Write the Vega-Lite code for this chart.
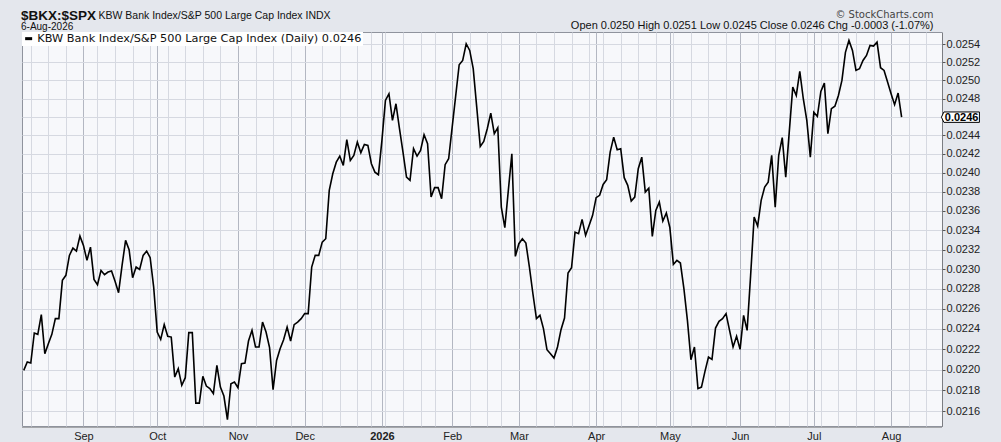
{
  "$schema": "https://vega.github.io/schema/vega-lite/v6.json",
  "width": 920,
  "height": 394,
  "autosize": {"type": "none"},
  "padding": {"left": 22, "top": 32, "right": 59, "bottom": 16},
  "background": "#e4e7ed",
  "config": {
    "view": {"stroke": "#8f939d", "fill": "#f7f8fb"},
    "font": "Liberation Sans"
  },
  "title": {
    "text": "$BKX:$SPX",
    "subtitle": "6-Aug-2026",
    "anchor": "start",
    "frame": "group",
    "font": "Liberation Sans",
    "fontSize": 13.5,
    "fontWeight": "bold",
    "color": "#111111",
    "subtitleFont": "Liberation Sans",
    "subtitleFontSize": 10,
    "subtitleColor": "#111111",
    "subtitlePadding": 0,
    "offset": -23,
    "dx": -1
  },
  "data": {"values": [
    {"date": "2025-08-07", "value": 0.021994},
    {"date": "2025-08-08", "value": 0.022075},
    {"date": "2025-08-11", "value": 0.022065},
    {"date": "2025-08-12", "value": 0.022360},
    {"date": "2025-08-13", "value": 0.022347},
    {"date": "2025-08-14", "value": 0.022542},
    {"date": "2025-08-15", "value": 0.022157},
    {"date": "2025-08-18", "value": 0.022255},
    {"date": "2025-08-19", "value": 0.022347},
    {"date": "2025-08-20", "value": 0.022502},
    {"date": "2025-08-21", "value": 0.022502},
    {"date": "2025-08-22", "value": 0.022886},
    {"date": "2025-08-25", "value": 0.022937},
    {"date": "2025-08-26", "value": 0.023140},
    {"date": "2025-08-27", "value": 0.023215},
    {"date": "2025-08-28", "value": 0.023184},
    {"date": "2025-08-29", "value": 0.023338},
    {"date": "2025-09-02", "value": 0.023242},
    {"date": "2025-09-03", "value": 0.023089},
    {"date": "2025-09-04", "value": 0.023225},
    {"date": "2025-09-05", "value": 0.022896},
    {"date": "2025-09-08", "value": 0.022842},
    {"date": "2025-09-09", "value": 0.022987},
    {"date": "2025-09-10", "value": 0.022944},
    {"date": "2025-09-11", "value": 0.022970},
    {"date": "2025-09-12", "value": 0.022980},
    {"date": "2025-09-15", "value": 0.022876},
    {"date": "2025-09-16", "value": 0.022762},
    {"date": "2025-09-17", "value": 0.023038},
    {"date": "2025-09-18", "value": 0.023294},
    {"date": "2025-09-19", "value": 0.023198},
    {"date": "2025-09-22", "value": 0.022913},
    {"date": "2025-09-23", "value": 0.023021},
    {"date": "2025-09-24", "value": 0.022997},
    {"date": "2025-09-25", "value": 0.023140},
    {"date": "2025-09-26", "value": 0.023184},
    {"date": "2025-09-29", "value": 0.023117},
    {"date": "2025-09-30", "value": 0.022818},
    {"date": "2025-10-01", "value": 0.022370},
    {"date": "2025-10-02", "value": 0.022297},
    {"date": "2025-10-03", "value": 0.022443},
    {"date": "2025-10-06", "value": 0.022327},
    {"date": "2025-10-07", "value": 0.022320},
    {"date": "2025-10-08", "value": 0.021929},
    {"date": "2025-10-09", "value": 0.022011},
    {"date": "2025-10-10", "value": 0.021849},
    {"date": "2025-10-13", "value": 0.021923},
    {"date": "2025-10-14", "value": 0.022364},
    {"date": "2025-10-15", "value": 0.022364},
    {"date": "2025-10-16", "value": 0.021678},
    {"date": "2025-10-17", "value": 0.021678},
    {"date": "2025-10-20", "value": 0.021936},
    {"date": "2025-10-21", "value": 0.021842},
    {"date": "2025-10-22", "value": 0.021817},
    {"date": "2025-10-23", "value": 0.021769},
    {"date": "2025-10-24", "value": 0.022043},
    {"date": "2025-10-27", "value": 0.021832},
    {"date": "2025-10-28", "value": 0.021746},
    {"date": "2025-10-29", "value": 0.021520},
    {"date": "2025-10-30", "value": 0.021865},
    {"date": "2025-10-31", "value": 0.021881},
    {"date": "2025-11-03", "value": 0.021826},
    {"date": "2025-11-04", "value": 0.022059},
    {"date": "2025-11-05", "value": 0.022065},
    {"date": "2025-11-06", "value": 0.022281},
    {"date": "2025-11-07", "value": 0.022386},
    {"date": "2025-11-10", "value": 0.022222},
    {"date": "2025-11-11", "value": 0.022222},
    {"date": "2025-11-12", "value": 0.022468},
    {"date": "2025-11-13", "value": 0.022370},
    {"date": "2025-11-14", "value": 0.022216},
    {"date": "2025-11-17", "value": 0.021807},
    {"date": "2025-11-18", "value": 0.022091},
    {"date": "2025-11-19", "value": 0.022206},
    {"date": "2025-11-20", "value": 0.022294},
    {"date": "2025-11-21", "value": 0.022419},
    {"date": "2025-11-24", "value": 0.022281},
    {"date": "2025-11-25", "value": 0.022443},
    {"date": "2025-11-26", "value": 0.022468},
    {"date": "2025-11-28", "value": 0.022502},
    {"date": "2025-12-01", "value": 0.022552},
    {"date": "2025-12-02", "value": 0.022552},
    {"date": "2025-12-03", "value": 0.023021},
    {"date": "2025-12-04", "value": 0.023140},
    {"date": "2025-12-05", "value": 0.023140},
    {"date": "2025-12-08", "value": 0.023276},
    {"date": "2025-12-09", "value": 0.023311},
    {"date": "2025-12-10", "value": 0.023814},
    {"date": "2025-12-11", "value": 0.023990},
    {"date": "2025-12-12", "value": 0.024113},
    {"date": "2025-12-15", "value": 0.024177},
    {"date": "2025-12-16", "value": 0.024078},
    {"date": "2025-12-17", "value": 0.024353},
    {"date": "2025-12-18", "value": 0.024131},
    {"date": "2025-12-19", "value": 0.024185},
    {"date": "2025-12-22", "value": 0.024327},
    {"date": "2025-12-23", "value": 0.024214},
    {"date": "2025-12-24", "value": 0.024303},
    {"date": "2025-12-26", "value": 0.024292},
    {"date": "2025-12-29", "value": 0.024096},
    {"date": "2025-12-30", "value": 0.024007},
    {"date": "2025-12-31", "value": 0.023980},
    {"date": "2026-01-02", "value": 0.024346},
    {"date": "2026-01-05", "value": 0.024780},
    {"date": "2026-01-06", "value": 0.024853},
    {"date": "2026-01-07", "value": 0.024562},
    {"date": "2026-01-08", "value": 0.024743},
    {"date": "2026-01-09", "value": 0.024472},
    {"date": "2026-01-12", "value": 0.024220},
    {"date": "2026-01-13", "value": 0.023954},
    {"date": "2026-01-14", "value": 0.023919},
    {"date": "2026-01-15", "value": 0.024257},
    {"date": "2026-01-16", "value": 0.024177},
    {"date": "2026-01-20", "value": 0.024238},
    {"date": "2026-01-21", "value": 0.024407},
    {"date": "2026-01-22", "value": 0.024310},
    {"date": "2026-01-23", "value": 0.023744},
    {"date": "2026-01-26", "value": 0.023843},
    {"date": "2026-01-27", "value": 0.023843},
    {"date": "2026-01-28", "value": 0.023727},
    {"date": "2026-01-29", "value": 0.024086},
    {"date": "2026-01-30", "value": 0.024149},
    {"date": "2026-02-02", "value": 0.024486},
    {"date": "2026-02-03", "value": 0.024827},
    {"date": "2026-02-04", "value": 0.025173},
    {"date": "2026-02-05", "value": 0.025221},
    {"date": "2026-02-06", "value": 0.025408},
    {"date": "2026-02-09", "value": 0.025333},
    {"date": "2026-02-10", "value": 0.025129},
    {"date": "2026-02-11", "value": 0.024706},
    {"date": "2026-02-12", "value": 0.024281},
    {"date": "2026-02-13", "value": 0.024335},
    {"date": "2026-02-17", "value": 0.024472},
    {"date": "2026-02-18", "value": 0.024641},
    {"date": "2026-02-19", "value": 0.024418},
    {"date": "2026-02-20", "value": 0.024483},
    {"date": "2026-02-23", "value": 0.023639},
    {"date": "2026-02-24", "value": 0.023425},
    {"date": "2026-02-25", "value": 0.023814},
    {"date": "2026-02-26", "value": 0.024203},
    {"date": "2026-02-27", "value": 0.023130},
    {"date": "2026-03-02", "value": 0.023260},
    {"date": "2026-03-03", "value": 0.023311},
    {"date": "2026-03-04", "value": 0.023266},
    {"date": "2026-03-05", "value": 0.023021},
    {"date": "2026-03-06", "value": 0.022751},
    {"date": "2026-03-09", "value": 0.022502},
    {"date": "2026-03-10", "value": 0.022535},
    {"date": "2026-03-11", "value": 0.022403},
    {"date": "2026-03-12", "value": 0.022196},
    {"date": "2026-03-13", "value": 0.022157},
    {"date": "2026-03-16", "value": 0.022114},
    {"date": "2026-03-17", "value": 0.022222},
    {"date": "2026-03-18", "value": 0.022393},
    {"date": "2026-03-19", "value": 0.022508},
    {"date": "2026-03-20", "value": 0.022960},
    {"date": "2026-03-23", "value": 0.023015},
    {"date": "2026-03-24", "value": 0.023379},
    {"date": "2026-03-25", "value": 0.023363},
    {"date": "2026-03-26", "value": 0.023511},
    {"date": "2026-03-27", "value": 0.023345},
    {"date": "2026-03-30", "value": 0.023448},
    {"date": "2026-03-31", "value": 0.023553},
    {"date": "2026-04-01", "value": 0.023738},
    {"date": "2026-04-02", "value": 0.023762},
    {"date": "2026-04-06", "value": 0.023877},
    {"date": "2026-04-07", "value": 0.023927},
    {"date": "2026-04-08", "value": 0.024220},
    {"date": "2026-04-09", "value": 0.024381},
    {"date": "2026-04-10", "value": 0.024246},
    {"date": "2026-04-13", "value": 0.024257},
    {"date": "2026-04-14", "value": 0.023948},
    {"date": "2026-04-15", "value": 0.023867},
    {"date": "2026-04-16", "value": 0.023702},
    {"date": "2026-04-17", "value": 0.023744},
    {"date": "2026-04-20", "value": 0.024043},
    {"date": "2026-04-21", "value": 0.024166},
    {"date": "2026-04-22", "value": 0.023796},
    {"date": "2026-04-23", "value": 0.023838},
    {"date": "2026-04-24", "value": 0.023335},
    {"date": "2026-04-27", "value": 0.023605},
    {"date": "2026-04-28", "value": 0.023691},
    {"date": "2026-04-29", "value": 0.023493},
    {"date": "2026-04-30", "value": 0.023577},
    {"date": "2026-05-01", "value": 0.023425},
    {"date": "2026-05-04", "value": 0.023048},
    {"date": "2026-05-05", "value": 0.023089},
    {"date": "2026-05-06", "value": 0.023062},
    {"date": "2026-05-07", "value": 0.022802},
    {"date": "2026-05-08", "value": 0.022485},
    {"date": "2026-05-11", "value": 0.022098},
    {"date": "2026-05-12", "value": 0.022222},
    {"date": "2026-05-13", "value": 0.021817},
    {"date": "2026-05-14", "value": 0.021832},
    {"date": "2026-05-15", "value": 0.021984},
    {"date": "2026-05-18", "value": 0.022124},
    {"date": "2026-05-19", "value": 0.022101},
    {"date": "2026-05-20", "value": 0.022409},
    {"date": "2026-05-21", "value": 0.022475},
    {"date": "2026-05-22", "value": 0.022502},
    {"date": "2026-05-26", "value": 0.022552},
    {"date": "2026-05-27", "value": 0.022386},
    {"date": "2026-05-28", "value": 0.022222},
    {"date": "2026-05-29", "value": 0.022327},
    {"date": "2026-06-01", "value": 0.022199},
    {"date": "2026-06-02", "value": 0.022535},
    {"date": "2026-06-03", "value": 0.022386},
    {"date": "2026-06-04", "value": 0.022937},
    {"date": "2026-06-05", "value": 0.023535},
    {"date": "2026-06-08", "value": 0.023441},
    {"date": "2026-06-09", "value": 0.023709},
    {"date": "2026-06-10", "value": 0.023849},
    {"date": "2026-06-11", "value": 0.023901},
    {"date": "2026-06-12", "value": 0.024185},
    {"date": "2026-06-15", "value": 0.023639},
    {"date": "2026-06-16", "value": 0.024185},
    {"date": "2026-06-17", "value": 0.024375},
    {"date": "2026-06-18", "value": 0.023954},
    {"date": "2026-06-22", "value": 0.024435},
    {"date": "2026-06-23", "value": 0.024926},
    {"date": "2026-06-24", "value": 0.024834},
    {"date": "2026-06-25", "value": 0.025099},
    {"date": "2026-06-26", "value": 0.024798},
    {"date": "2026-06-29", "value": 0.024562},
    {"date": "2026-06-30", "value": 0.024166},
    {"date": "2026-07-01", "value": 0.024651},
    {"date": "2026-07-02", "value": 0.024605},
    {"date": "2026-07-06", "value": 0.024878},
    {"date": "2026-07-07", "value": 0.024970},
    {"date": "2026-07-08", "value": 0.024418},
    {"date": "2026-07-09", "value": 0.024689},
    {"date": "2026-07-10", "value": 0.024717},
    {"date": "2026-07-13", "value": 0.024834},
    {"date": "2026-07-14", "value": 0.024999},
    {"date": "2026-07-15", "value": 0.025311},
    {"date": "2026-07-16", "value": 0.025445},
    {"date": "2026-07-17", "value": 0.025333},
    {"date": "2026-07-20", "value": 0.025110},
    {"date": "2026-07-21", "value": 0.025129},
    {"date": "2026-07-22", "value": 0.025221},
    {"date": "2026-07-23", "value": 0.025277},
    {"date": "2026-07-24", "value": 0.025389},
    {"date": "2026-07-27", "value": 0.025381},
    {"date": "2026-07-28", "value": 0.025426},
    {"date": "2026-07-29", "value": 0.025140},
    {"date": "2026-07-30", "value": 0.025110},
    {"date": "2026-07-31", "value": 0.024981},
    {"date": "2026-08-03", "value": 0.024853},
    {"date": "2026-08-04", "value": 0.024733},
    {"date": "2026-08-05", "value": 0.024860},
    {"date": "2026-08-06", "value": 0.024597}
  ]},
  "resolve": {"axis": {"x": "independent", "y": "independent"}},
  "layer": [
    {
      "mark": {"type": "line", "color": "#000000", "strokeWidth": 1.6, "clip": true},
      "encoding": {
        "x": {
          "field": "date",
          "type": "ordinal",
          "scale": {
            "type": "point",
            "padding": 0.5,
            "domain": {"unionWith": ["2026-08-07", "2026-08-10", "2026-08-11", "2026-08-12", "2026-08-13", "2026-08-14", "2026-08-17", "2026-08-18", "2026-08-19", "2026-08-20", "2026-08-21"]}
          },
          "axis": {
            "orient": "bottom",
            "values": ["2025-09-02", "2025-10-01", "2025-11-03", "2025-12-01", "2026-01-02", "2026-02-02", "2026-03-02", "2026-04-01", "2026-05-01", "2026-06-01", "2026-07-01", "2026-08-03"],
            "labelExpr": "datum.value == '2026-01-02' ? '2026' : utcFormat(toDate(datum.value), '%b')",
            "labelFontWeight": {"condition": {"test": "datum.value == '2026-01-02'", "value": "bold"}, "value": "normal"},
            "labelAngle": 0,
            "labelFont": "Liberation Sans",
            "labelFontSize": 11,
            "labelColor": "#222222",
            "labelPadding": 3,
            "ticks": false,
            "domain": true,
            "domainColor": "#666666",
            "domainDash": [1, 1],
            "domainWidth": 1,
            "offset": 1,
            "grid": true,
            "gridColor": "#b3b7c2",
            "gridWidth": 1,
            "title": null
          }
        },
        "y": {
          "field": "value",
          "type": "quantitative",
          "scale": {"type": "log", "domain": [0.02146, 0.02554], "nice": false, "zero": false},
          "axis": {
            "orient": "right",
            "values": [0.0216, 0.0218, 0.022, 0.0222, 0.0224, 0.0226, 0.0228, 0.023, 0.0232, 0.0234, 0.0236, 0.0238, 0.024, 0.0242, 0.0244, 0.0246, 0.0248, 0.025, 0.0252, 0.0254],
            "labelExpr": "abs(datum.value - 0.0246) < 0.00000001 ? '' : format(datum.value, '.4f')",
            "labelFont": "Liberation Sans",
            "labelFontSize": 11,
            "labelColor": "#222222",
            "labelPadding": 1,
            "tickSize": 3,
            "tickColor": "#555555",
            "domain": true,
            "domainColor": "#666666",
            "domainDash": [1, 1],
            "domainWidth": 1,
            "grid": true,
            "gridColor": "#d6d9e1",
            "title": "Open 0.0250  High 0.0251  Low 0.0245  Close 0.0246  Chg -0.0003 (-1.07%)",
            "titleAngle": 0,
            "titleAlign": "right",
            "titleBaseline": "middle",
            "titleX": -9,
            "titleY": -7,
            "titleFont": "Liberation Sans",
            "titleFontSize": 11,
            "titleFontWeight": "normal",
            "titleColor": "#111111"
          }
        },
        "color": {
          "datum": "KBW Bank Index/S&P 500 Large Cap Index (Daily) 0.0246",
          "type": "nominal",
          "scale": {"range": ["#000000"]},
          "legend": {
            "orient": "top-left",
            "offset": 0,
            "padding": 1,
            "title": null,
            "fillColor": "#ffffff",
            "symbolType": "stroke",
            "symbolSize": 49,
            "symbolStrokeWidth": 3,
            "labelFont": "DejaVu Sans",
            "labelFontSize": 11.3,
            "labelColor": "#111111",
            "labelOffset": 3,
            "labelLimit": 500
          }
        }
      }
    },
    {
      "transform": [{"filter": {"field": "date", "equal": "2026-08-06"}}],
      "mark": {
        "type": "point",
        "shape": "M 3.98 0 L 4.23 -0.52 L 7.78 -0.52 L 7.78 0.52 L 4.23 0.52 Z",
        "size": 400,
        "filled": true,
        "fill": "#ffffff",
        "stroke": "#000000",
        "strokeWidth": 1,
        "opacity": 1
      },
      "encoding": {
        "x": {
          "field": "date",
          "type": "ordinal",
          "axis": {
            "orient": "bottom",
            "values": ["2025-08-11", "2025-08-18", "2025-08-25", "2025-09-08", "2025-09-15", "2025-09-22", "2025-09-29", "2025-10-06", "2025-10-13", "2025-10-20", "2025-10-27", "2025-11-10", "2025-11-17", "2025-11-24", "2025-12-08", "2025-12-15", "2025-12-22", "2025-12-29", "2026-01-05", "2026-01-12", "2026-01-20", "2026-01-26", "2026-02-09", "2026-02-17", "2026-02-23", "2026-03-09", "2026-03-16", "2026-03-23", "2026-03-30", "2026-04-06", "2026-04-13", "2026-04-20", "2026-04-27", "2026-05-04", "2026-05-11", "2026-05-18", "2026-05-26", "2026-06-08", "2026-06-15", "2026-06-22", "2026-06-29", "2026-07-06", "2026-07-13", "2026-07-20", "2026-07-27", "2026-08-10", "2026-08-17"],
            "labels": false,
            "ticks": false,
            "domain": false,
            "grid": true,
            "gridColor": "#d6d9e1",
            "title": "© StockCharts.com",
            "titleX": 911,
            "titleY": -412,
            "titleAlign": "right",
            "titleBaseline": "middle",
            "titleFont": "DejaVu Sans",
            "titleFontSize": 10,
            "titleFontWeight": "normal",
            "titleColor": "#444444"
          }
        },
        "y": {
          "field": "value",
          "type": "quantitative",
          "axis": {
            "orient": "left",
            "labels": false,
            "ticks": false,
            "domain": false,
            "grid": false,
            "title": "KBW Bank Index/S&P 500 Large Cap Index  INDX",
            "titleAngle": 0,
            "titleAlign": "left",
            "titleBaseline": "alphabetic",
            "titleX": 76,
            "titleY": -14,
            "titleFont": "Liberation Sans",
            "titleFontSize": 10.5,
            "titleFontWeight": "normal",
            "titleColor": "#111111"
          }
        }
      }
    },
    {
      "transform": [{"filter": {"field": "date", "equal": "2026-08-06"}}],
      "mark": {"type": "text", "dx": 60, "dy": 0.5, "align": "center", "baseline": "middle", "font": "Liberation Sans", "fontSize": 11, "fontWeight": "bold", "color": "#000000"},
      "encoding": {
        "x": {"field": "date", "type": "ordinal", "axis": null},
        "y": {"field": "value", "type": "quantitative", "axis": null},
        "text": {"field": "value", "type": "quantitative", "format": ".4f"}
      }
    }
  ]
}
